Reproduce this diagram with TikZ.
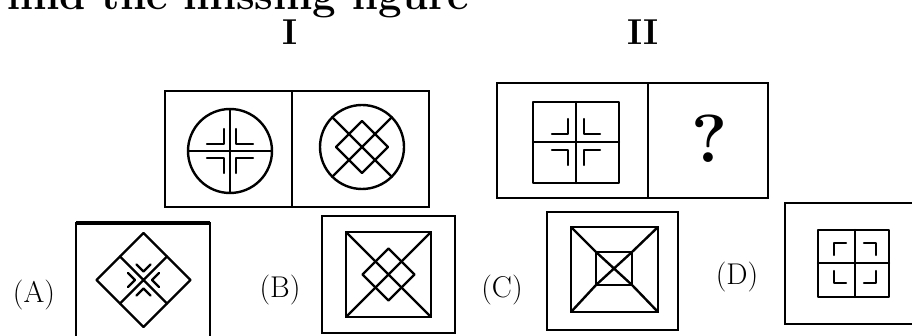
\documentclass[tikz,border=0pt]{standalone}
\begin{document}
\begin{tikzpicture}[x=1pt,y=-1pt,
  boxline/.style={line width=2.6pt,line join=miter},
  figline/.style={line width=2.4pt,line cap=round,line join=round},
  lbl/.style={inner sep=0pt,font=\fontsize{30}{32}\selectfont},
  hdr/.style={inner sep=0pt,font=\fontsize{36}{38}\selectfont\bfseries},
  ttl/.style={inner sep=0pt,font=\fontsize{42}{44}\selectfont\bfseries}]
\useasboundingbox (0,0) rectangle (912,336);
\fill[white] (0,0) rectangle (912,336);
% title (cut off at top, as in the scan)
\node[ttl,anchor=base west] (title) at (7,10) {find the missing figure};
\node[hdr,anchor=base] (labI) at (290,45) {I};
\node[hdr,anchor=base] (labII) at (643,45) {II};
% ---------- Figure I ----------
\draw[boxline] (165,91) rectangle (429,207);
\draw[boxline] (292,91) -- (292,207);
% left circle
\draw[figline] (230,151) circle[radius=42];
\draw[figline] (188,151) -- (272,151) (230,109) -- (230,193);
\foreach \sx/\sy in {1/1,1/-1,-1/1,-1/-1}{
  \draw[figline] (230+\sx*23,151+\sy*7) -- (230+\sx*6,151+\sy*7) -- (230+\sx*6,151+\sy*22);
}
% right circle
\draw[figline] (362,147) circle[radius=42];
\draw[figline] (332.3,117.3) -- (391.7,176.7) (391.7,117.3) -- (332.3,176.7);
\draw[figline] (362,121) -- (388,147) -- (362,173) -- (336,147) -- cycle;
% ---------- Figure II ----------
\draw[boxline] (497,83) rectangle (768,198);
\draw[boxline] (648,83) -- (648,198);
\draw[figline] (533,102) rectangle (619,183);
\draw[figline] (576,102) -- (576,183) (533,142) -- (619,142);
\foreach \sx/\sy in {1/1,1/-1,-1/1,-1/-1}{
  \draw[figline] (576+\sx*24,142+\sy*8) -- (576+\sx*8,142+\sy*8) -- (576+\sx*8,142+\sy*23);
}
\node[inner sep=0pt,font=\fontsize{68}{68}\selectfont\bfseries] (qm) at (710,139) {?};
% ---------- Options ----------
\node[lbl] (optA) at (34,295) {(A)};
\node[lbl] (optB) at (280,290) {(B)};
\node[lbl] (optC) at (502,290) {(C)};
\node[lbl] (optD) at (737,277) {(D)};
% A
\draw[boxline] (76,340) -- (76,223) -- (210,223) -- (210,340);
\draw[line width=3.4pt] (76,223) -- (210,223);
\draw[figline] (143.5,233) -- (190.5,280) -- (143.5,327) -- (96.5,280) -- cycle;
\draw[figline] (120,256.5) -- (167,303.5) (167,256.5) -- (120,303.5);
\begin{scope}[shift={(143.5,280)},rotate=45]
\foreach \sx/\sy in {1/1,1/-1,-1/1,-1/-1}{
  \draw[figline] (\sx*16,\sy*6) -- (\sx*6,\sy*6) -- (\sx*6,\sy*16);
}
\end{scope}
% B
\draw[boxline] (322,216) rectangle (455,333);
\draw[figline] (346,232) rectangle (431,317);
\draw[figline] (346,232) -- (431,317) (431,232) -- (346,317);
\draw[figline] (388.5,248.5) -- (414.5,274.5) -- (388.5,300.5) -- (362.5,274.5) -- cycle;
% C
\draw[boxline] (547,212) rectangle (678,330);
\draw[figline] (571,227) rectangle (658,312);
\draw[figline] (596,252) rectangle (632,285);
\draw[figline] (571,227) -- (596,252) (658,227) -- (632,252) (571,312) -- (596,285) (658,312) -- (632,285);
\draw[figline] (596,252) -- (632,285) (632,252) -- (596,285);
% D
\draw[boxline] (915,203) -- (785,203) -- (785,324) -- (915,324);
\draw[figline] (818,230) rectangle (889,297);
\draw[figline] (855,230) -- (855,297) (818,263) -- (889,263);
\foreach \sx/\sy in {1/1,1/-1,-1/1,-1/-1}{
  \draw[figline] (855+\sx*9,263+\sy*20) -- (855+\sx*21,263+\sy*20) -- (855+\sx*21,263+\sy*8);
}
\end{tikzpicture}
\end{document}
